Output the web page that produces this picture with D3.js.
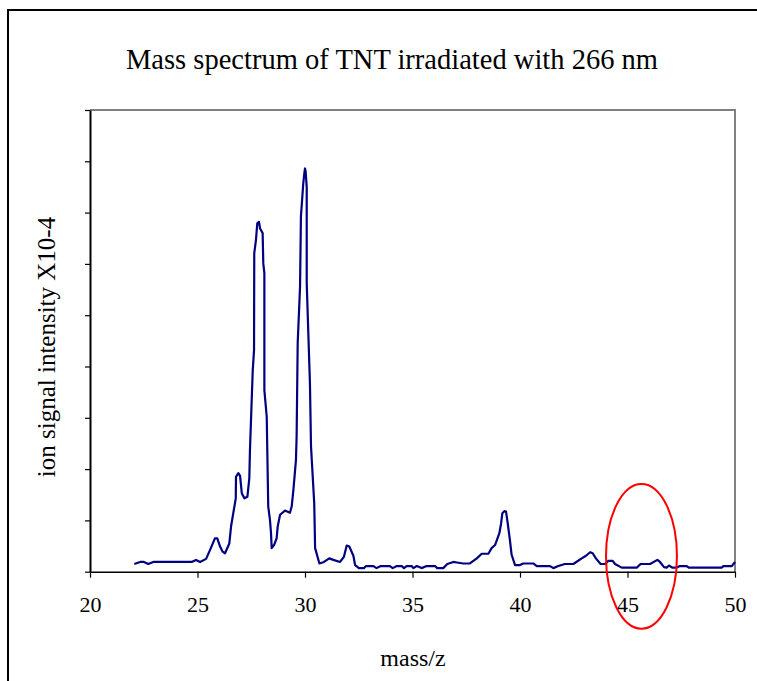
<!DOCTYPE html>
<html>
<head>
<meta charset="utf-8">
<script src="https://cdn.jsdelivr.net/npm/d3@7"></script>
<style>
  body { margin: 0; background: #fff; }
  svg { display: block; }
  text { font-family: "Liberation Serif", "Times New Roman", serif; fill: #000; }
</style>
</head>
<body>
<svg width="757" height="681"></svg>
<script>
  // mass/z and signal (x10^-4)
  const mass = [22.06, 22.33, 22.51, 22.71, 22.94, 24.73, 24.93, 25.12, 25.40, 25.58,
    25.81, 25.92, 26.05, 26.17, 26.28, 26.48, 26.56, 26.78, 26.79, 26.90,
    26.98, 27.06, 27.18, 27.32, 27.41, 27.44, 27.57, 27.63, 27.64, 27.72,
    27.78, 27.86, 27.91, 28.03, 28.06, 28.11, 28.11, 28.22, 28.29, 28.37,
    28.42, 28.45, 28.56, 28.68, 28.73, 28.84, 29.07, 29.20, 29.30, 29.38,
    29.46, 29.58, 29.61, 29.66, 29.77, 29.81, 29.92, 29.97, 30.00, 30.03,
    30.08, 30.08, 30.23, 30.28, 30.43, 30.47, 30.67, 30.88, 31.13, 31.32,
    31.63, 31.81, 31.94, 32.06, 32.25, 32.33, 32.51, 32.74, 32.84, 33.18,
    33.33, 33.52, 33.95, 34.08, 34.27, 34.50, 34.60, 34.73, 34.96, 35.04,
    35.20, 35.42, 35.66, 36.05, 36.15, 36.43, 36.62, 36.90, 37.06, 37.36,
    37.67, 37.99, 38.22, 38.53, 38.68, 38.84, 39.04, 39.12, 39.18, 39.27,
    39.35, 39.43, 39.53, 39.61, 39.77, 40.00, 40.15, 40.62, 40.78, 41.40,
    41.55, 41.78, 42.09, 42.48, 42.87, 43.07, 43.26, 43.38, 43.53, 43.75,
    43.95, 44.11, 44.31, 44.42, 44.73, 45.43, 45.61, 46.05, 46.39, 46.51,
    46.70, 46.82, 46.93, 47.08, 47.29, 47.44, 47.75, 47.85, 49.38, 49.46,
    49.85, 50.00];
  const signal = [0.15, 0.19, 0.19, 0.15, 0.19, 0.19, 0.23, 0.19, 0.25, 0.42,
    0.65, 0.65, 0.49, 0.39, 0.36, 0.55, 0.88, 1.43, 1.85, 1.92,
    1.87, 1.53, 1.43, 1.46, 1.82, 2.37, 3.93, 4.32, 6.21, 6.47,
    6.79, 6.82, 6.69, 6.60, 6.01, 5.82, 3.54, 3.02, 1.27, 1.01,
    0.75, 0.46, 0.52, 0.65, 0.88, 1.11, 1.19, 1.17, 1.15, 1.27,
    1.59, 2.18, 2.63, 4.45, 5.56, 6.92, 7.57, 7.77, 7.86, 7.80,
    7.50, 5.62, 3.67, 2.44, 1.33, 0.46, 0.16, 0.19, 0.26, 0.23,
    0.19, 0.29, 0.51, 0.49, 0.31, 0.13, 0.07, 0.07, 0.11, 0.11,
    0.07, 0.11, 0.11, 0.07, 0.11, 0.11, 0.07, 0.11, 0.11, 0.07,
    0.11, 0.07, 0.11, 0.11, 0.07, 0.07, 0.15, 0.19, 0.18, 0.16,
    0.16, 0.26, 0.35, 0.35, 0.46, 0.52, 0.75, 0.94, 1.14, 1.18,
    1.17, 0.94, 0.62, 0.33, 0.13, 0.13, 0.16, 0.16, 0.11, 0.11,
    0.07, 0.11, 0.15, 0.15, 0.26, 0.31, 0.38, 0.36, 0.26, 0.15,
    0.15, 0.21, 0.21, 0.15, 0.08, 0.08, 0.15, 0.15, 0.23, 0.19,
    0.09, 0.08, 0.12, 0.08, 0.08, 0.11, 0.11, 0.08, 0.08, 0.11,
    0.11, 0.19];
  const xTicks = [20, 25, 30, 35, 40, 45, 50];
  const yTicks = [0, 1, 2, 3, 4, 5, 6, 7, 8, 9];
  // red highlight ellipse around m/z 46 (centre, radii in data units)
  const mark = { cx: 45.65, cy: 0.30, rx: 1.65, ry: 1.41 };

  const svg = d3.select('svg');
  const plot = { left: 90, right: 735, top: 110, bottom: 571.7 };

  const x = d3.scaleLinear().domain([20, 50]).range([plot.left, plot.right]);
  const y = d3.scaleLinear().domain([0, 9]).range([plot.bottom, plot.top]);

  // outer chart border (runs off the right and bottom of the window)
  svg.append('rect')
    .attr('x', 8).attr('y', 10)
    .attr('width', 800).attr('height', 700)
    .attr('fill', 'none')
    .attr('stroke', '#000')
    .attr('stroke-width', 2);

  // excel squeezes the title a bit, so fit it to the measured width
  svg.append('text')
    .attr('x', 392).attr('y', 69)
    .attr('text-anchor', 'middle')
    .attr('font-size', 30)
    .attr('textLength', 532)
    .attr('lengthAdjust', 'spacingAndGlyphs')
    .text('Mass spectrum of TNT irradiated with 266 nm');

  // plot area frame: grey top and right
  svg.append('path')
    .attr('d', `M${plot.left},${plot.top}H${plot.right}V${plot.bottom}`)
    .attr('fill', 'none')
    .attr('stroke', '#808080')
    .attr('stroke-width', 2);

  const xAxis = svg.append('g')
    .attr('transform', `translate(0,${plot.bottom})`)
    .call(d3.axisBottom(x).tickValues(xTicks).tickSize(6).tickSizeOuter(0).tickPadding(19));
  xAxis.select('.domain').attr('stroke', '#000').attr('stroke-width', 1.5);
  xAxis.selectAll('.tick line').attr('stroke', '#000').attr('stroke-width', 1.2);
  xAxis.selectAll('.tick text')
    .attr('font-family', '"Liberation Serif", "Times New Roman", serif')
    .attr('font-size', 22)
    .attr('fill', '#000');

  const yAxis = svg.append('g')
    .attr('transform', `translate(${plot.left},0)`)
    .call(d3.axisLeft(y).tickValues(yTicks).tickSize(5).tickSizeOuter(0).tickFormat(''));
  yAxis.select('.domain').attr('stroke', '#000').attr('stroke-width', 2);
  yAxis.selectAll('.tick line').attr('stroke', '#000').attr('stroke-width', 1.2);

  svg.append('text')
    .attr('x', 413).attr('y', 666)
    .attr('text-anchor', 'middle')
    .attr('font-size', 24)
    .text('mass/z');

  svg.append('text')
    .attr('transform', `translate(55,347) rotate(-90)`)
    .attr('text-anchor', 'middle')
    .attr('font-size', 25)
    .text('ion signal intensity X10-4');

  const line = d3.line()
    .x((d, i) => x(mass[i]))
    .y(d => y(d));

  svg.append('path')
    .datum(signal)
    .attr('d', line)
    .attr('fill', 'none')
    .attr('stroke', '#000080')
    .attr('stroke-width', 2.2)
    .attr('stroke-linejoin', 'round');

  svg.append('ellipse')
    .attr('cx', x(mark.cx))
    .attr('cy', y(mark.cy))
    .attr('rx', x(mark.cx + mark.rx) - x(mark.cx))
    .attr('ry', y(0) - y(mark.ry))
    .attr('fill', 'none')
    .attr('stroke', '#ff0000')
    .attr('stroke-width', 2);
</script>
</body>
</html>
